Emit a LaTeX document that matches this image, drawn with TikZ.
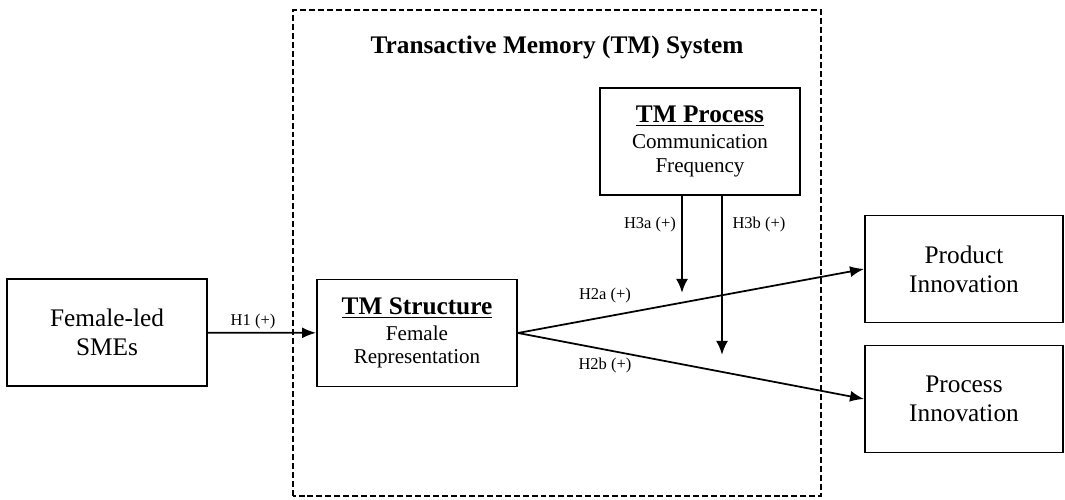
\documentclass[tikz,border=0pt]{standalone}
\usepackage{fontspec}
\setmainfont{Liberation Serif}
\usepackage{tikz}
\tikzset{>=latex}
\usetikzlibrary{arrows.meta, positioning}

\tikzset{
    varbox/.style={draw, line width=1.1pt, minimum width=4cm, minimum height=2.14cm,
        align=center, inner sep=0pt, font=\fontsize{14.4}{16.4}\selectfont},
    tmbox/.style={varbox, font=\fontsize{12}{13.6}\selectfont},
    outbox/.style={varbox, minimum width=3.96cm},
    hyp/.style={font=\fontsize{9.4}{11}\selectfont, inner sep=1pt},
    effect/.style={-{Latex[length=2.8mm, width=2.2mm]}, line width=1pt},
    modline/.style={-{Latex[length=2.8mm, width=2.4mm]}, line width=1.5pt},
}
\newcommand{\tmhead}[1]{{\fontsize{14.4}{16}\selectfont\bfseries\underline{#1}}}

\begin{document}
\begin{tikzpicture}
    \useasboundingbox (0,0) rectangle (21.3,10);

    % TM system frame
    \draw[line width=1.1pt, dash pattern=on 3.4pt off 1.7pt] (5.86,0.08) rectangle (16.42,9.8);
    \node[font=\fontsize{14.4}{16}\selectfont\bfseries] (sys) at (11.14,9.06) {Transactive Memory (TM) System};

    % variables
    \node[varbox] (sme) at (2.14,3.35) {Female-led\\SMEs};
    \node[tmbox] (struct) at (8.34,3.34) {\tmhead{TM Structure}\\[1pt] Female\\Representation};
    \node[tmbox] (proc) at (14.0,7.17) {\tmhead{TM Process}\\[1pt] Communication\\Frequency};
    \node[outbox] (prod) at (19.28,4.62) {Product\\Innovation};
    \node[outbox] (pcs) at (19.28,2.02) {Process\\Innovation};

    % direct effects
    \draw[effect] (sme) -- (struct);
    \draw[effect] (struct.east) -- (prod.west);
    \draw[effect] (struct.east) -- (pcs.west);

    % moderation
    \coordinate (h3a) at (13.64,4.14);
    \coordinate (h3b) at (14.44,2.9);
    \draw[modline] (proc.south -| h3a) -- (h3a);
    \draw[modline] (proc.south -| h3b) -- (h3b);

    % hypotheses
    \node[hyp] (h1) at (5.06,3.56) {H1 (+)};
    \node[hyp] (h2a) at (12.1,4.08) {H2a (+)};
    \node[hyp] (h2b) at (12.1,2.68) {H2b (+)};
    \node[hyp] (h3al) at (13.0,5.5) {H3a (+)};
    \node[hyp] (h3bl) at (15.18,5.5) {H3b (+)};
\end{tikzpicture}
\end{document}
